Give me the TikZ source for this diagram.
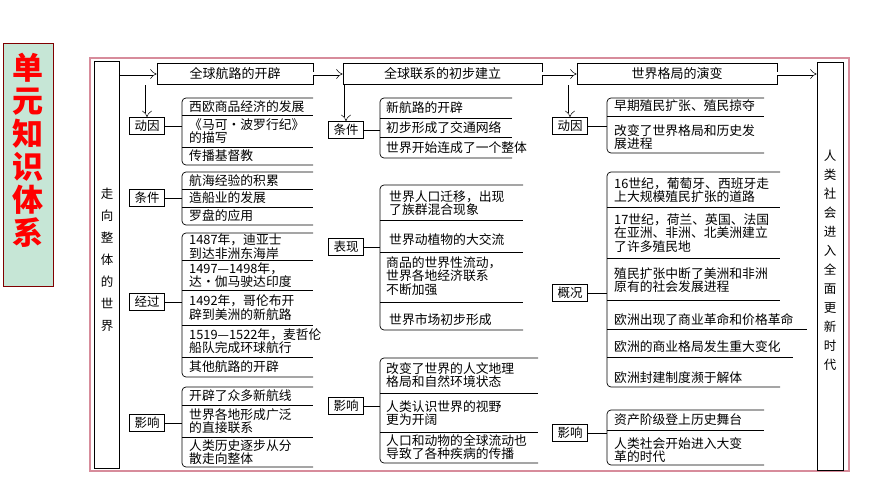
\documentclass[tikz,border=0pt]{standalone}
\usepackage{fontspec}
\setmainfont{Noto Sans CJK SC}
\usetikzlibrary{arrows.meta}
\definecolor{mint}{RGB}{198,230,214}
\definecolor{framepink}{RGB}{215,140,155}
\tikzset{
  cat/.style={draw,line width=0.7pt,inner sep=1.5pt,minimum width=35pt,minimum height=17pt,font=\fontsize{12.5}{13}\selectfont},
  hdr/.style={draw,line width=0.7pt,fill=white,minimum height=21pt,font=\fontsize{13}{14}\selectfont},
  itx/.style={anchor=west,align=left,inner sep=0pt,font=\fontsize{12.8}{13.5}\selectfont},
  dbl/.style={double,double distance=3pt,line width=0.5pt,-{Implies}},
  brc/.style={line width=0.7pt,rounded corners=4pt},
  sep/.style={line width=0.7pt},
  conn/.style={line width=0.7pt}
}
\newcommand\grp[5]{\draw[brc] (#5,#3) -- (#2,#3) -- (#2,#4) -- (#5,#4); \coordinate (#1) at (#2,{(#3+#4)/2});}
\newcommand\sepl[3]{\draw[sep] (#1,#2) -- (#3,#2);}
\begin{document}
\begin{tikzpicture}[x=1pt,y=-1pt]
\useasboundingbox (0,0) rectangle (870,489);
% title
\node[draw=red!50!black,fill=mint,minimum width=50pt,minimum height=243pt,line width=0.8pt] (title) at (28,165) {};
\node[font=\fontsize{31}{33}\selectfont\bfseries,text=red,align=center] (titletxt) at (28,150) {单\\元\\知\\识\\体\\系};
% frame
\draw[draw=framepink,line width=1.2pt] (90,58) rectangle (849,471);
\node[draw,line width=0.7pt,minimum width=25pt,minimum height=407pt,inner sep=0] (L) at (107,265) {};
\node[font=\fontsize{12.5}{22}\selectfont,align=center] (Ltxt) at (107,260) {走\\向\\整\\体\\的\\世\\界};
\node[draw,line width=0.7pt,minimum width=26pt,minimum height=408pt,inner sep=0] (R) at (830,266) {};
\node[font=\fontsize{12.5}{19}\selectfont,align=center] (Rtxt) at (830,260) {人\\类\\社\\会\\进\\入\\全\\面\\更\\新\\时\\代};
% headers
\node[hdr,minimum width=156pt] (h1) at (235,74) {全球航路的开辟};
\node[hdr,minimum width=199pt] (h2) at (442.5,74) {全球联系的初步建立};
\node[hdr,minimum width=200pt] (h3) at (677,74) {世界格局的演变};
\draw[dbl] (L.east |- h1) -- (h1.west);
\draw[dbl] (h1.east) -- (h2.west);
\draw[dbl] (h2.east) -- (h3.west);
\draw[dbl] (h3.east) -- (R.west |- h3);
% column 1
\node[cat] (c1a) at (147,126) {动因};
\node[cat] (c1b) at (147,198) {条件};
\node[cat] (c1c) at (147,302) {经过};
\node[cat] (c1d) at (147,423) {影响};
\draw[dbl] (h1.south -| c1a) -- (c1a.north);
\grp{g1a}{182}{98}{165}{313}\sepl{182}{115}{313}\sepl{182}{147}{313}
\node[itx] (i1a1) at (189,106.5) {西欧商品经济的发展};
\node[itx] (i1a2) at (189,131) {《马可·波罗行纪》\\的描写};
\node[itx] (i1a3) at (189,156) {传播基督教};
\grp{g1b}{182}{172}{225}{313}\sepl{182}{189}{313}\sepl{182}{207}{313}
\node[itx] (i1b1) at (189,180.5) {航海经验的积累};
\node[itx] (i1b2) at (189,198) {造船业的发展};
\node[itx] (i1b3) at (189,216) {罗盘的应用};
\grp{g1c}{182}{233}{377}{313}\sepl{182}{260}{313}\sepl{182}{290}{313}\sepl{182}{325}{313}\sepl{182}{357}{313}
\node[itx] (i1c1) at (189,246.5) {1487年，迪亚士\\到达非洲东海岸};
\node[itx] (i1c2) at (189,275) {1497—1498年，\\达·伽马驶达印度};
\node[itx] (i1c3) at (189,307.5) {1492年，哥伦布开\\辟到美洲的新航路};
\node[itx] (i1c4) at (189,341) {1519—1522年，麦哲伦\\船队完成环球航行};
\node[itx] (i1c5) at (189,367) {其他航路的开辟};
\grp{g1d}{182}{387}{467}{313}\sepl{182}{405}{313}\sepl{182}{437}{313}
\node[itx] (i1d1) at (189,396) {开辟了众多新航线};
\node[itx] (i1d2) at (189,421) {世界各地形成广泛\\的直接联系};
\node[itx] (i1d3) at (189,452) {人类历史逐步从分\\散走向整体};
\foreach \c/\g in {c1a/g1a,c1b/g1b,c1c/g1c,c1d/g1d} \draw[conn] (\c.east) -- (\c.east -| \g);
% column 2
\node[cat] (c2a) at (346,130) {条件};
\node[cat] (c2b) at (346,247) {表现};
\node[cat] (c2c) at (346,406) {影响};
\draw[dbl] (h2.south -| c2a) -- (c2a.north);
\grp{g2a}{380}{98}{158}{512}\sepl{380}{118}{512}\sepl{380}{137}{512}
\node[itx] (i2a1) at (386,108) {新航路的开辟};
\node[itx] (i2a2) at (386,127.5) {初步形成了交通网络};
\node[itx] (i2a3) at (386,148) {世界开始连成了一个整体};
\grp{g2b}{380}{185}{330}{523}\sepl{380}{220}{523}\sepl{380}{252}{523}\sepl{380}{302}{523}
\node[itx] (i2b1) at (389,203) {世界人口迁移，出现\\了族群混合现象};
\node[itx] (i2b2) at (389,240) {世界动植物的大交流};
\node[itx] (i2b3) at (386,276) {商品的世界性流动，\\世界各地经济联系\\不断加强};
\node[itx] (i2b4) at (389,320) {世界市场初步形成};
\grp{g2c}{380}{358}{463}{538}\sepl{380}{393}{538}\sepl{380}{432}{538}
\node[itx] (i2c1) at (386,375) {改变了世界的人文地理\\格局和自然环境状态};
\node[itx] (i2c2) at (386,413) {人类认识世界的视野\\更为开阔};
\node[itx] (i2c3) at (386,447) {人口和动物的全球流动也\\导致了各种疾病的传播};
\foreach \c/\g in {c2a/g2a,c2b/g2b,c2c/g2c} \draw[conn] (\c.east) -- (\c.east -| \g);
% column 3
\node[cat] (c3a) at (570,126) {动因};
\node[cat] (c3b) at (570,293) {概况};
\node[cat] (c3c) at (570,433) {影响};
\draw[dbl] (h3.south -| c3a) -- (c3a.north);
\grp{g3a}{607}{98}{153}{764}\sepl{607}{116}{764}
\node[itx] (i3a1) at (614,106) {早期殖民扩张、殖民掠夺};
\node[itx] (i3a2) at (614,137) {改变了世界格局和历史发\\展进程};
\grp{g3b}{607}{172}{387}{780}\sepl{607}{207}{780}\sepl{607}{258}{780}\sepl{607}{300}{780}\sepl{607}{329}{807}\sepl{607}{357}{793}
\node[itx] (i3b1) at (614,190) {16世纪，葡萄牙、西班牙走\\上大规模殖民扩张的道路};
\node[itx] (i3b2) at (614,233) {17世纪，荷兰、英国、法国\\在亚洲、非洲、北美洲建立\\了许多殖民地};
\node[itx] (i3b3) at (614,280) {殖民扩张中断了美洲和非洲\\原有的社会发展进程};
\node[itx] (i3b4) at (614,320) {欧洲出现了商业革命和价格革命};
\node[itx] (i3b5) at (614,347) {欧洲的商业格局发生重大变化};
\node[itx] (i3b6) at (614,378) {欧洲封建制度濒于解体};
\grp{g3c}{607}{410}{465}{764}\sepl{607}{430}{764}
\node[itx] (i3c1) at (614,420) {资产阶级登上历史舞台};
\node[itx] (i3c2) at (614,450) {人类社会开始进入大变\\革的时代};
\foreach \c/\g in {c3a/g3a,c3b/g3b,c3c/g3c} \draw[conn] (\c.east) -- (\c.east -| \g);
\end{tikzpicture}
\end{document}
